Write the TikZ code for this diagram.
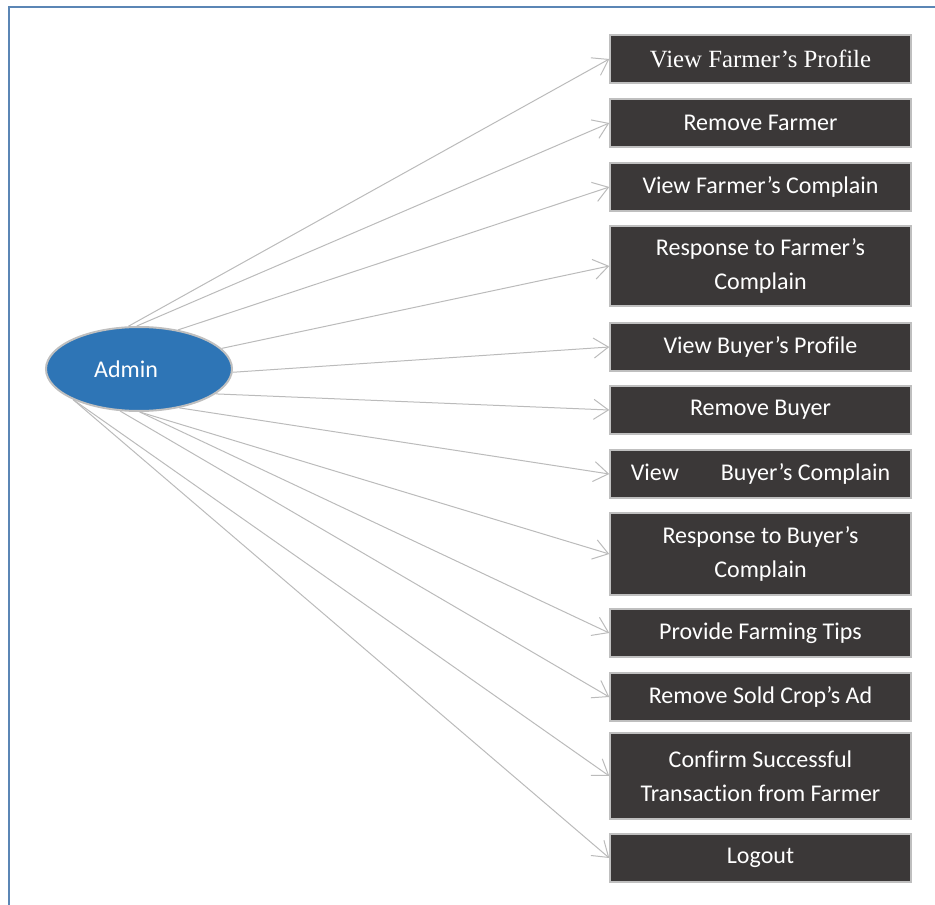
\documentclass[tikz,border=0pt]{standalone}
\usepackage{fontspec}
\setmainfont{Carlito}[Ligatures={NoCommon}]
\newfontfamily\profileserif{Liberation Serif}
\usetikzlibrary{arrows.meta,shapes.geometric}
\definecolor{frameblue}{HTML}{5B86B5}
\definecolor{boxfill}{HTML}{3B3838}
\definecolor{boxline}{HTML}{BFBFBF}
\definecolor{adminblue}{HTML}{2E75B6}
\definecolor{linkgray}{HTML}{BBBBBB}
\begin{document}
\begin{tikzpicture}[x=0.75pt,y=-0.75pt,
  task/.style={rectangle, fill=boxfill, draw=boxline, line width=1.1pt,
    minimum width=225.75pt, minimum height=36pt, inner sep=0pt,
    text=white, align=center, font=\fontsize{18}{25.5}\selectfont},
  actor/.style={ellipse, fill=adminblue, draw=boxline, line width=1.5pt,
    minimum width=139.5pt, minimum height=63pt, inner sep=0pt,
    text=white, font=\fontsize{18}{20}\selectfont},
  link/.style={draw=linkgray, line width=0.75pt,
    -{Straight Barb[length=11pt,width=15pt]}}]
\useasboundingbox (0,0) rectangle (935,905);

% page frame: top and left rules only
\draw[frameblue, line width=1.5pt] (935,7.5) -- (8.5,7.5) -- (8.5,905);

% the actor, its label set a little left of centre
\node[actor] (admin) at (139,369) {Admin\kern19.5pt};

% use cases
\node[task, font=\profileserif\fontsize{18.6}{25.5}\selectfont] (t1) at (760.5,59) {View Farmer’s Profile};
\node[task] (t2) at (760.5,123) {Remove Farmer};
\node[task] (t3) at (760.5,187) {View Farmer’s Complain};
\node[task, minimum height=60pt] (t4) at (760.5,266) {Response to Farmer’s\\Complain};
\node[task] (t5) at (760.5,347) {View Buyer’s Profile};
\node[task] (t6) at (760.5,410) {Remove Buyer};
\node[task] (t7) at (760.5,474) {View\hspace{31.5pt}Buyer’s Complain};
\node[task, minimum height=61.5pt] (t8) at (760.5,554) {Response to Buyer’s\\Complain};
\node[task] (t9) at (760.5,633) {Provide Farming Tips};
\node[task] (t10) at (760.5,697) {Remove Sold Crop’s Ad};
\node[task, minimum height=64.5pt] (t11) at (760.5,776) {Confirm Successful\\Transaction from Farmer};
\node[task] (t12) at (760.5,858) {Logout};

% associations
\draw[link] (admin.104) -- (t1.west);
\draw[link] (admin.93) -- (t2.west);
\draw[link] (admin.45) -- (t3.west);
\draw[link] (admin.14) -- (t4.west);
\draw[link] (admin.-2) -- (t5.west);
\draw[link] (admin.-18) -- (t6.west);
\draw[link] (admin.-44) -- (t7.west);
\draw[link] (admin.-89) -- (t8.west);
\draw[link] (admin.-89) -- (t9.west);
\draw[link] (admin.-114) -- (t10.west);
\draw[link] (admin.-155) -- (t11.west);
\draw[link] (admin.-155) -- (t12.west);
\end{tikzpicture}
\end{document}
